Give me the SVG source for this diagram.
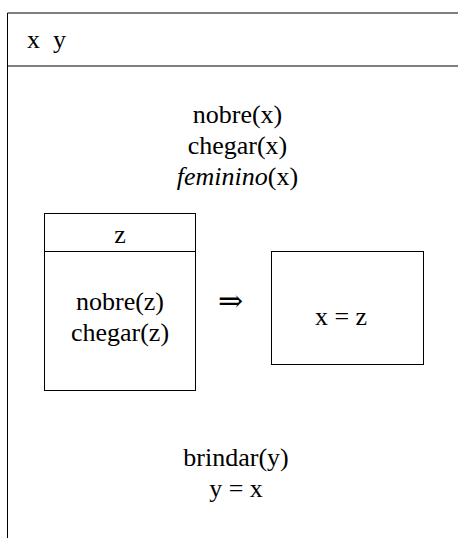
<svg xmlns="http://www.w3.org/2000/svg" width="458" height="538" viewBox="0 0 458 538">
<style>
.t{font-family:'Liberation Serif','Times New Roman',Times,'DejaVu Serif','Noto Serif',serif;font-size:26px;fill:#000}
.c{text-anchor:middle}
.ln{stroke:#000;stroke-width:1;fill:none}
</style>
<rect width="458" height="538" fill="#fff"/>
<g id="outer-box">
<line class="ln" x1="7.5" y1="13" x2="458" y2="13"/>
<line class="ln" x1="7.5" y1="66" x2="458" y2="66"/>
<line class="ln" x1="7.5" y1="13" x2="7.5" y2="538"/>
<text class="t" x="27" y="48">x</text>
<text class="t" x="53" y="48">y</text>
</g>
<g id="conditions-top">
<text class="t c" x="237.5" y="123">nobre(x)</text>
<text class="t c" x="237.5" y="154">chegar(x)</text>
<text class="t c" x="237.5" y="185"><tspan font-style="italic">feminino</tspan>(x)</text>
</g>
<g id="antecedent-box">
<rect class="ln" x="44.5" y="213.5" width="151" height="177"/>
<line class="ln" x1="44.5" y1="251.5" x2="195.5" y2="251.5"/>
<text class="t c" x="120" y="243">z</text>
<text class="t c" x="120" y="310">nobre(z)</text>
<text class="t c" x="120" y="341">chegar(z)</text>
</g>
<g id="connectors">
<text class="t c" x="230.5" y="311" style="font-size:30px">⇒</text>
</g>
<g id="consequent-box">
<rect class="ln" x="271.5" y="251.5" width="152" height="113"/>
<text class="t c" x="341" y="325">x = z</text>
</g>
<g id="conditions-bottom">
<text class="t c" x="236" y="466">brindar(y)</text>
<text class="t c" x="236" y="497">y = x</text>
</g>
</svg>
